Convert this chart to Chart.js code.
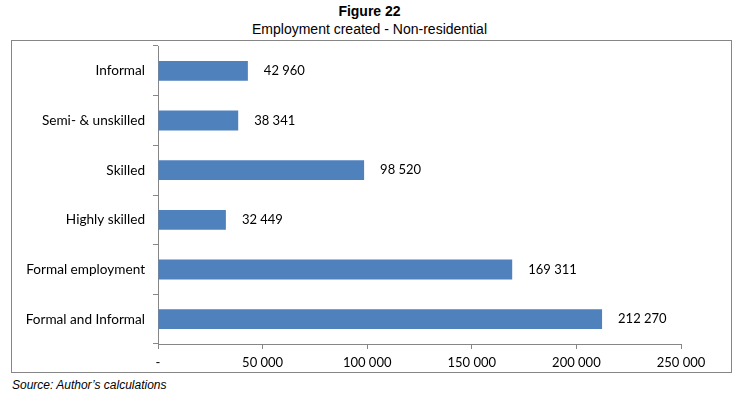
<!DOCTYPE html>
<html>
<head>
<meta charset="utf-8">
<script src="https://cdn.jsdelivr.net/npm/chart.js@4"></script>
<style>
  body { margin: 0; background: #fff; width: 739px; height: 396px; position: relative; overflow: hidden; }
  .title { position: absolute; left: 0; width: 739px; text-align: center; font-family: "Liberation Sans", Arial, sans-serif; font-size: 14px; color: #000; }
  #t1 { top: 3px; font-weight: bold; }
  #t2 { top: 21px; }
  #box { position: absolute; left: 11px; top: 40px; width: 719px; height: 331px; border: 1px solid #868686; }
  #source { position: absolute; left: 12px; top: 378px; font-family: "Liberation Sans", Arial, sans-serif; font-size: 12px; font-style: italic; color: #000; }
</style>
</head>
<body>
<div class="title" id="t1">Figure 22</div>
<div class="title" id="t2">Employment created - Non-residential</div>
<div id="box"><canvas id="chart-jobs" width="719" height="331"></canvas></div>
<div id="source">Source: Author’s calculations</div>
<script>
const categories = ['Informal', 'Semi- & unskilled', 'Skilled', 'Highly skilled', 'Formal employment', 'Formal and Informal'];
const jobs = [42960, 38341, 98520, 32449, 169311, 212270];
const xTicks = [0, 50000, 100000, 150000, 200000, 250000];

const fmt = v => v === 0 ? '-' : String(v).replace(/\B(?=(\d{3})+(?!\d))/g, ' ');

const valueLabels = {
  id: 'valueLabels',
  afterDatasetsDraw(chart) {
    const { ctx } = chart;
    const meta = chart.getDatasetMeta(0);
    ctx.save();
    ctx.font = '13px Lato, sans-serif';
    ctx.fillStyle = '#000';
    ctx.textAlign = 'left';
    ctx.textBaseline = 'middle';
    meta.data.forEach((bar, i) => {
      ctx.fillText(fmt(jobs[i]), bar.x + 16, bar.y);
    });
    ctx.restore();
  }
};

new Chart(document.getElementById('chart-jobs'), {
  type: 'bar',
  data: {
    labels: categories,
    datasets: [{
      data: jobs,
      backgroundColor: '#4F81BD',
      borderWidth: 0,
      barPercentage: 0.8,
      categoryPercentage: 0.5,
    }]
  },
  options: {
    indexAxis: 'y',
    responsive: false,
    animation: false,
    layout: { padding: { top: 5, right: 50, left: 0, bottom: 0 } },
    plugins: {
      legend: { display: false },
      tooltip: { enabled: false }
    },
    scales: {
      x: {
        min: 0,
        max: 250000,
        afterBuildTicks: s => { s.ticks = xTicks.map(v => ({ value: v })); },
        afterFit: s => { s.height = 28; s.paddingLeft = 0; s.paddingRight = 0; },
        grid: { drawOnChartArea: false, tickLength: 5, color: '#868686' },
        border: { color: '#868686' },
        ticks: {
          color: '#000',
          font: { family: 'Lato', size: 13 },
          padding: 6,
          maxRotation: 0,
          callback: v => fmt(v)
        }
      },
      y: {
        afterFit: s => { s.width = 146; s.paddingTop = 0; s.paddingBottom = 0; },
        grid: { drawOnChartArea: false, tickLength: 5, color: '#868686', offset: true },
        border: { color: '#868686' },
        ticks: {
          color: '#000',
          font: { family: 'Lato', size: 13.6 },
          padding: 8
        }
      }
    }
  },
  plugins: [valueLabels]
});
</script>
</body>
</html>
